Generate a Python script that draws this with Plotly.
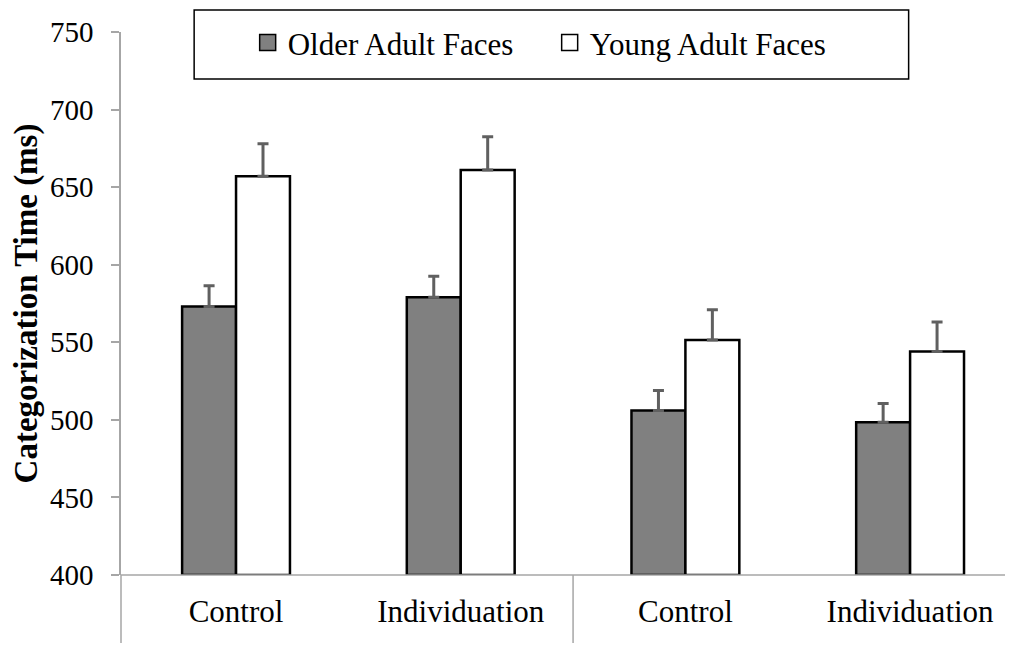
import plotly.graph_objects as go

categories = ["Control", "Individuation", "Control", "Individuation"]
older_vals = [573, 579, 506, 498.5]
older_err = [13.5, 13.5, 13, 12]
young_vals = [657, 661, 551.5, 544]
young_err = [21, 21.5, 19.5, 19]
series_names = ["Older Adult Faces", "Young Adult Faces"]
y_ticks = [400, 450, 500, 550, 600, 650, 700, 750]

FONT = "Liberation Serif"
xpos = list(range(len(categories)))
older_style = dict(color="#808080", line=dict(color="#000000", width=2.5))
young_style = dict(color="#ffffff", line=dict(color="#000000", width=2.5))

fig = go.Figure()
fig.add_trace(go.Bar(
    x=xpos, y=[v - 400 for v in older_vals], base=400, name=series_names[0],
    marker=older_style, showlegend=False,
    error_y=dict(type="data", array=older_err, arrayminus=[0]*4, symmetric=False,
                 color="#606060", thickness=3, width=5.5),
))
fig.add_trace(go.Bar(
    x=xpos, y=[v - 400 for v in young_vals], base=400, name=series_names[1],
    marker=young_style, showlegend=False,
    error_y=dict(type="data", array=young_err, arrayminus=[0]*4, symmetric=False,
                 color="#606060", thickness=3, width=5.5),
))
# legend entries (square swatches)
for name, col in zip(series_names, ["#808080", "#ffffff"]):
    fig.add_trace(go.Scatter(
        x=[None], y=[None], mode="markers", name=name, showlegend=True,
        marker=dict(symbol="square", size=16, color=col,
                    line=dict(color="#000000", width=1.5)),
    ))

fig.update_layout(
    width=1013, height=645,
    margin=dict(l=113, r=8, t=24, b=78, autoexpand=False),
    paper_bgcolor="white", plot_bgcolor="white",
    barmode="group", bargap=0.52, bargroupgap=0,
    font=dict(family=FONT, size=29, color="#000000"),
    showlegend=True,
    legend=dict(orientation="h", x=0.142, y=0.98, xanchor="left", yanchor="middle",
                bgcolor="rgba(0,0,0,0)", font=dict(size=31, family=FONT, color="#000000"),
                entrywidth=257, entrywidthmode="pixels", traceorder="normal"),
    xaxis=dict(range=[-0.512, 3.458], tickvals=xpos, ticktext=categories,
               showgrid=False, zeroline=False, showline=False, ticks="",
               automargin=False,
               ticklabelstandoff=15, tickfont=dict(size=31, family=FONT, color="#000000")),
    yaxis=dict(range=[400, 750], tickvals=y_ticks, showgrid=False, zeroline=False,
               showline=True, linecolor="#a6a6a6", linewidth=1.5,
               ticks="outside", ticklen=8, tickcolor="#a6a6a6", tickwidth=1.5,
               automargin=False, ticklabelstandoff=12,
               tickfont=dict(size=29, family=FONT, color="#000000"),
               title=dict(text="<b>Categorization Time (ms)</b>", standoff=5,
                          font=dict(size=33, family=FONT, color="#000000"))),
    shapes=[
        dict(type="line", xref="paper", yref="paper", x0=0, x1=1, y0=0, y1=0,
             line=dict(color="#a6a6a6", width=1.5)),
        dict(type="line", xref="paper", yref="paper", x0=0, x1=0, y0=0, y1=-0.125,
             line=dict(color="#a6a6a6", width=1.5)),
        dict(type="line", xref="x", yref="paper", x0=1.5, x1=1.5, y0=0, y1=-0.125,
             line=dict(color="#a6a6a6", width=1.5)),
        dict(type="rect", xref="paper", yref="paper", x0=0.082, x1=0.883, y0=0.9134, y1=1.0405,
             line=dict(color="#000000", width=1.5), fillcolor="white", layer="below"),
    ],
)

fig.write_html("out.html")
